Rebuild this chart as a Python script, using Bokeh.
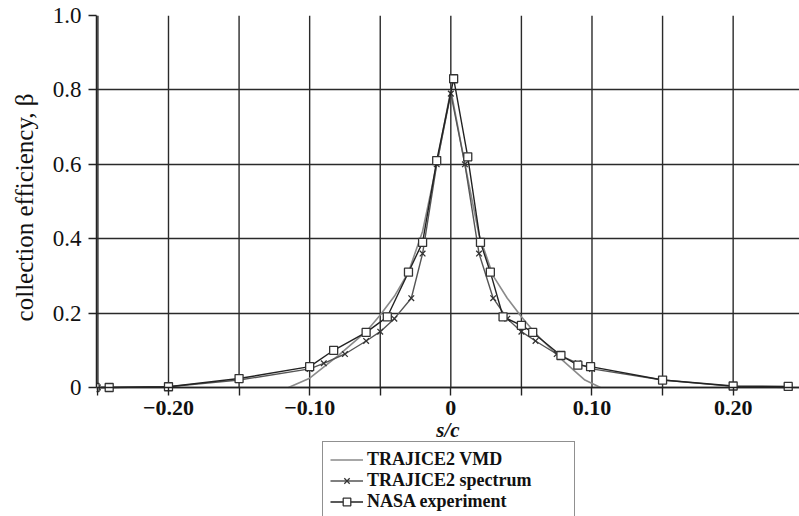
from bokeh.plotting import figure
from bokeh.models import FixedTicker, Legend, LegendItem, Range1d, Title
from bokeh.embed import file_html
from bokeh.resources import INLINE

# TRAJICE2 VMD (solid line, no markers)
vmd_s = [-0.115, -0.10, -0.08, -0.06, -0.05, -0.04, -0.03, -0.02, -0.01, 0.0,
         0.01, 0.02, 0.03, 0.04, 0.05, 0.06, 0.08, 0.095, 0.106]
vmd_b = [0.0, 0.025, 0.085, 0.15, 0.195, 0.245, 0.31, 0.42, 0.60, 0.80,
         0.60, 0.41, 0.30, 0.24, 0.19, 0.145, 0.07, 0.02, 0.0]

# TRAJICE2 spectrum (line with x markers)
spec_s = [-0.25, -0.20, -0.15, -0.10, -0.09, -0.075, -0.06, -0.05, -0.04, -0.028, -0.02, -0.01, 0.0,
          0.01, 0.02, 0.03, 0.04, 0.05, 0.06, 0.075, 0.09, 0.10, 0.15, 0.20, 0.24]
spec_b = [0.0, 0.002, 0.02, 0.05, 0.065, 0.09, 0.125, 0.15, 0.185, 0.24, 0.36, 0.60, 0.79,
          0.60, 0.36, 0.24, 0.185, 0.15, 0.125, 0.09, 0.065, 0.05, 0.02, 0.003, 0.0]

# NASA experiment (line with open squares)
nasa_s = [-0.252, -0.242, -0.20, -0.15, -0.10, -0.083, -0.06, -0.045, -0.03, -0.02, -0.01, 0.002,
          0.012, 0.021, 0.028, 0.037, 0.05, 0.058, 0.078, 0.09, 0.099, 0.15, 0.20, 0.239]
nasa_b = [0.0, 0.0, 0.002, 0.024, 0.056, 0.10, 0.148, 0.19, 0.31, 0.39, 0.61, 0.83,
          0.62, 0.39, 0.31, 0.19, 0.167, 0.148, 0.086, 0.06, 0.056, 0.02, 0.004, 0.003]

x_ticks = [-0.25, -0.2, -0.15, -0.1, -0.05, 0, 0.05, 0.1, 0.15, 0.2, 0.25]
x_labels = {-0.2: "\u22120.20", -0.1: "\u22120.10", 0: "0", 0.1: "0.10", 0.2: "0.20",
            -0.25: "", -0.15: "", -0.05: "", 0.05: "", 0.15: "", 0.25: ""}
y_ticks = [0, 0.2, 0.4, 0.6, 0.8, 1.0]
y_labels = {0: "0", 0.2: "0.2", 0.4: "0.4", 0.6: "0.6", 0.8: "0.8", 1.0: "1.0"}

FONT = "Liberation Serif"
GRID = "#2a2a2a"

# frame spans from the top line down to the window bottom; beta = 0 sits 129 px above it
p = figure(frame_width=703, frame_height=501, output_backend="svg", toolbar_location=None,
           x_range=Range1d(-0.251, 0.247), y_range=Range1d(-0.3468, 1.0),
           min_border_left=96, min_border_right=0, min_border_top=15, min_border_bottom=0)
p.background_fill_color = "white"
p.border_fill_color = "white"
p.outline_line_color = None

# horizontal grid lines
p.xgrid.visible = False
p.ygrid.ticker = FixedTicker(ticks=y_ticks)
p.ygrid.grid_line_color = GRID
p.ygrid.grid_line_width = 1.4

# vertical grid lines only between beta = 0 and beta = 1
grid_x = [t for t in x_ticks if t <= 0.247]
p.segment(x0=grid_x, y0=[0] * len(grid_x), x1=grid_x, y1=[1.0] * len(grid_x),
          line_color=GRID, line_width=1.4)

# axes
p.xaxis.ticker = FixedTicker(ticks=x_ticks)
p.xaxis.major_label_overrides = x_labels
p.xaxis.fixed_location = 0
p.yaxis.ticker = FixedTicker(ticks=y_ticks)
p.yaxis.major_label_overrides = y_labels
p.yaxis.bounds = (0, 1.0)
for ax in (p.xaxis, p.yaxis):
    ax.axis_line_color = "#222222"
    ax.axis_line_width = 1.5
    ax.major_tick_line_color = "#222222"
    ax.major_tick_line_width = 1.4
    ax.major_tick_out = 8
    ax.major_tick_in = 0
    ax.minor_tick_line_color = None
    ax.major_label_text_font = FONT
    ax.major_label_text_color = "#111111"
    ax.axis_label_text_font = FONT
    ax.axis_label_text_color = "#111111"

p.xaxis.major_label_text_font_size = "22px"
p.xaxis.major_label_text_font_style = "bold"
p.xaxis.major_label_standoff = 6
p.xaxis.axis_label = "s/c"
p.xaxis.axis_label_text_font_size = "21px"
p.xaxis.axis_label_text_font_style = "bold italic"
p.xaxis.axis_label_standoff = -1

p.yaxis.major_label_text_font_size = "23px"
p.yaxis.major_label_standoff = 7

# y-axis title placed beside the 0..1 span (the frame reaches further down)
ytitle = Title(text="collection efficiency, \u03b2", align="right", offset=78,
               vertical_align="top",
               text_font=FONT, text_font_size="25px", text_font_style="normal",
               text_color="#111111", standoff=20)
p.add_layout(ytitle, "left")

# series
r_vmd = p.line(vmd_s, vmd_b, line_color="#8a8a8a", line_width=1.6)

r_spec_l = p.line(spec_s, spec_b, line_color="#555555", line_width=1.4)
r_spec_m = p.scatter(spec_s, spec_b, marker="x", size=8, line_color="#333333", line_width=1.3)

r_nasa_l = p.line(nasa_s, nasa_b, line_color="#222222", line_width=1.4)
r_nasa_m = p.scatter(nasa_s, nasa_b, marker="square", size=8, fill_color="white",
                     line_color="#333333", line_width=1.3)

legend = Legend(items=[
    LegendItem(label="TRAJICE2 VMD", renderers=[r_vmd]),
    LegendItem(label="TRAJICE2 spectrum", renderers=[r_spec_l, r_spec_m]),
    LegendItem(label="NASA experiment", renderers=[r_nasa_l, r_nasa_m]),
], location=(226, -4), orientation="vertical")
legend.label_text_font = FONT
legend.label_text_font_size = "18px"
legend.label_text_font_style = "bold"
legend.label_text_color = "#111111"
legend.label_height = 19
legend.label_width = 200
legend.glyph_width = 33
legend.glyph_height = 19
legend.spacing = 0
legend.padding = 7
legend.margin = 0
legend.label_standoff = 4
legend.border_line_color = "#222222"
legend.border_line_width = 1.5
legend.background_fill_alpha = 1.0
p.add_layout(legend, "center")

open("out.html", "w").write(file_html(p, INLINE))
